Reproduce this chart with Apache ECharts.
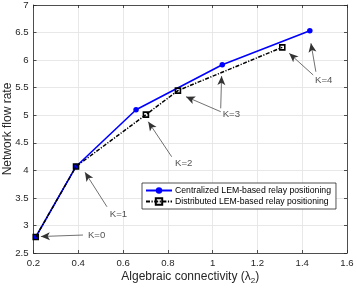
<!DOCTYPE html>
<html>
<head>
<meta charset="utf-8">
<script src="https://cdn.jsdelivr.net/npm/echarts@6/dist/echarts.min.js"></script>
<style>html,body{margin:0;padding:0;background:#fff}#c{width:357px;height:289px}</style>
</head>
<body>
<div id="c"></div>
<script>
// ---- data ----
const seriesNames = ['Centralized LEM-based relay positioning', 'Distributed LEM-based relay positioning'];
const centralX = [0.21, 0.39, 0.658, 1.043, 1.434];
const centralY = [2.79, 4.07, 5.10, 5.915, 6.534];
const distX = [0.21, 0.39, 0.702, 0.845, 1.311];
const distY = [2.79, 4.07, 5.01, 5.447, 6.232];
const xTicks = [0.2, 0.4, 0.6, 0.8, 1.0, 1.2, 1.4, 1.6];
const yTicks = [2.5, 3, 3.5, 4, 4.5, 5, 5.5, 6, 6.5, 7];
// annotations (data space)
const annotText = ['K=0', 'K=1', 'K=2', 'K=3', 'K=4'];
const annotTextX = [0.443, 0.541, 0.832, 1.045, 1.457];
const annotTextY = [2.826, 3.207, 4.127, 5.022, 5.639];
const arrowFrom = [[0.421, 2.826], [0.528, 3.339], [0.817, 4.247], [1.036, 5.064], [1.036, 5.125], [1.449, 5.730], [1.461, 5.789]];
const arrowTo = [[0.233, 2.799], [0.430, 3.964], [0.7125, 4.882], [0.881, 5.336], [1.040, 5.711], [1.342, 6.123], [1.439, 6.305]];

const FONT = 'Liberation Sans, Arial, Helvetica, sans-serif';
const AX = '#262626';
const chart = echarts.init(document.getElementById('c'), null, {renderer: 'canvas'});

function fmt(v) { return (Math.round(v * 10) / 10).toString(); }

const baseX = {
  type: 'value', min: xTicks[0], max: xTicks[xTicks.length - 1], interval: 0.2,
  axisLine: {show: true, lineStyle: {color: AX, width: 0.8}},
  axisTick: {show: true, inside: true, length: 3, lineStyle: {color: AX, width: 0.8}},
};
const baseY = {
  type: 'value', min: yTicks[0], max: yTicks[yTicks.length - 1], interval: 0.5,
  axisLine: {show: true, lineStyle: {color: AX, width: 0.8}},
  axisTick: {show: true, inside: true, length: 3, lineStyle: {color: AX, width: 0.8}},
};

const option = {
  animation: false,
  backgroundColor: '#ffffff',
  textStyle: {fontFamily: FONT},
  grid: {left: 33.5, right: 10, top: 5, bottom: 36, containLabel: false, outerBoundsMode: 'none'},
  legend: {
    orient: 'vertical', left: 142, top: 183,
    data: seriesNames,
    backgroundColor: '#ffffff', borderColor: AX, borderWidth: 0.8, borderRadius: 0,
    padding: [3, 5, 3, 3], itemGap: 2, itemWidth: 26, itemHeight: 8,
    textStyle: {fontSize: 8.7, color: '#000', fontFamily: FONT, padding: [0, 0, 0, -2]}
  },
  xAxis: [
    Object.assign({}, baseX, {
      position: 'bottom',
      name: 'Algebraic connectivity (λ{sub|2})', nameLocation: 'middle', nameGap: 16.5,
      nameMoveOverlap: false,
      nameTextStyle: {fontSize: 12, color: AX, fontFamily: FONT,
        rich: {sub: {fontSize: 8, color: AX, fontFamily: FONT, padding: [7, 0, 0, 0]}}},
      axisLabel: {fontSize: 9.6, color: AX, margin: 5, fontFamily: FONT, formatter: fmt},
      splitLine: {show: true, lineStyle: {color: '#e2e2e2', width: 0.8}}
    }),
    Object.assign({}, baseX, {
      position: 'top', axisLabel: {show: false}, splitLine: {show: false}
    })
  ],
  yAxis: [
    Object.assign({}, baseY, {
      position: 'left',
      name: 'Network flow rate', nameLocation: 'middle', nameGap: 20,
      nameMoveOverlap: false,
      nameTextStyle: {fontSize: 12, color: AX, fontFamily: FONT},
      axisLabel: {fontSize: 9.6, color: AX, margin: 5, fontFamily: FONT, formatter: fmt},
      splitLine: {show: true, lineStyle: {color: '#e2e2e2', width: 0.8}}
    }),
    Object.assign({}, baseY, {
      position: 'right', axisLabel: {show: false}, splitLine: {show: false}
    })
  ],
  series: [
    {
      name: seriesNames[0], type: 'line', z: 3,
      data: centralX.map((x, i) => [x, centralY[i]]),
      symbol: 'circle', symbolSize: 5.5, showAllSymbol: true,
      lineStyle: {color: '#0000ff', width: 1.6},
      itemStyle: {color: '#0000ff', borderWidth: 0}
    },
    {
      name: seriesNames[1], type: 'line', z: 4,
      data: distX.map((x, i) => [x, distY[i]]),
      symbol: 'rect', symbolSize: 5, showAllSymbol: true,
      lineStyle: {color: '#000000', width: 1.5, type: [4, 1.5, 1.2, 1.5]},
      itemStyle: {color: 'rgba(255,255,255,0)', borderColor: '#000000', borderWidth: 1.6}
    },
    {
      name: 'arrows', type: 'line', data: [], z: 5, silent: true,
      markLine: {
        silent: true, animation: false,
        symbol: ['none', 'arrow'], symbolSize: [6, 9],
        label: {show: false},
        lineStyle: {color: '#333333', width: 0.7, type: 'solid'},
        itemStyle: {color: '#000000'},
        emphasis: {disabled: true},
        data: arrowFrom.map((f, i) => [{coord: f}, {coord: arrowTo[i]}])
      }
    },
    {
      name: 'labels', type: 'scatter', z: 6, silent: true,
      data: annotTextX.map((x, i) => [x, annotTextY[i], annotText[i]]),
      symbolSize: 0,
      label: {
        show: true, position: [0, 0], align: 'left', verticalAlign: 'middle',
        fontSize: 9.6, color: AX, fontFamily: FONT,
        formatter: p => p.data[2]
      }
    }
  ]
};
chart.setOption(option);
</script>
</body>
</html>
